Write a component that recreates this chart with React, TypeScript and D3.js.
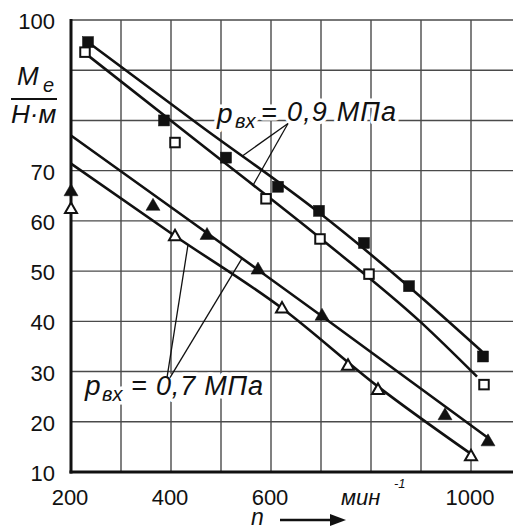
import React from "react";
import * as d3 from "d3";

// ---- data ----
const xTicks = [200, 300, 400, 500, 600, 700, 800, 900, 1000];
const xTickLabels = ["200", "", "400", "", "600", "", "", "", "1000"];
const yTicks = [10, 20, 30, 40, 50, 60, 70, 80, 90, 100];
const yTickLabels = ["10", "20", "30", "40", "50", "60", "70", "", "", "100"];

// p = 0.9 MPa, filled squares
const nFilledSq = [234, 386, 510, 614, 696, 786, 876, 1024];
const vFilledSq = [95.6, 80, 72.6, 66.8, 62, 55.6, 47, 33];
// p = 0.9 MPa, open squares
const nOpenSq = [228, 408, 590, 698, 796, 1026];
const vOpenSq = [93.6, 75.6, 64.4, 56.4, 49.4, 27.4];
// p = 0.7 MPa, filled triangles
const nFilledTri = [200, 364, 472, 574, 702, 948, 1034];
const vFilledTri = [66.2, 63.3, 57.5, 50.6, 41.4, 21.6, 16.4];
// p = 0.7 MPa, open triangles
const nOpenTri = [200, 408, 622, 754, 814, 1000];
const vOpenTri = [62.6, 57.2, 42.8, 31.4, 26.6, 13.4];

// fitted curves
const nFitFilledSq = [234, 458, 694, 884, 1022];
const vFitFilledSq = [95.6, 79, 61.8, 46.2, 34];
const nFitOpenSq = [228, 458, 698, 900, 1012];
const vFitOpenSq = [93.4, 75.4, 56.6, 39.8, 29];
const nFitFilledTri = [200, 472, 702, 1034];
const vFitFilledTri = [77, 57.6, 41, 16.8];
const nFitOpenTri = [200, 408, 622, 814, 1000];
const vFitOpenTri = [71.4, 57, 42.6, 27, 13.6];

const W = 513;
const H = 530;
const FONT = "'Liberation Sans', Arial, Helvetica, sans-serif";

const x = d3.scaleLinear().domain([200, 1084]).range([71, 513]);
const y = d3.scaleLinear().domain([10, 100]).range([472, 20]);

const zip = (ns: number[], vs: number[]) => ns.map((n, i) => [n, vs[i]] as [number, number]);

const lineGen = d3
  .line<[number, number]>()
  .x((d) => x(d[0]))
  .y((d) => y(d[1]))
  .curve(d3.curveMonotoneX);

function interp(ns: number[], vs: number[], n: number) {
  const s = d3.scaleLinear().domain(ns).range(vs);
  return s(n);
}

const fits = [
  zip(nFitFilledSq, vFitFilledSq),
  zip(nFitOpenSq, vFitOpenSq),
  zip(nFitFilledTri, vFitFilledTri),
  zip(nFitOpenTri, vFitOpenTri),
];

// leader lines (start point near label, end on fitted curve)
const leaders09 = [
  { n0: 634, v0: 79.4, n1: 542, fit: [nFitFilledSq, vFitFilledSq] },
  { n0: 634, v0: 79.4, n1: 564, fit: [nFitOpenSq, vFitOpenSq] },
];
const leaders07 = [
  { n0: 392, v0: 28.8, n1: 434, fit: [nFitOpenTri, vFitOpenTri] },
  { n0: 398, v0: 28.8, n1: 542, fit: [nFitFilledTri, vFitFilledTri] },
];

function Square({ cx, cy, filled }: { cx: number; cy: number; filled: boolean }) {
  const s = filled ? 11 : 9.5;
  return (
    <rect
      x={cx - s / 2}
      y={cy - s / 2}
      width={s}
      height={s}
      fill={filled ? "#111" : "#fff"}
      stroke="#111"
      strokeWidth={filled ? 0.5 : 2}
    />
  );
}

function Tri({ cx, cy, filled }: { cx: number; cy: number; filled: boolean }) {
  const w = filled ? 14 : 12;
  const h = filled ? 12 : 10.5;
  const pts = `${cx - w / 2},${cy + h / 2} ${cx + w / 2},${cy + h / 2} ${cx},${cy - h / 2}`;
  return (
    <polygon
      points={pts}
      fill={filled ? "#111" : "#fff"}
      stroke="#111"
      strokeWidth={filled ? 0.5 : 2}
      strokeLinejoin="miter"
    />
  );
}

const halo = {
  stroke: "#fff",
  strokeWidth: 7,
  paintOrder: "stroke" as const,
  strokeLinejoin: "round" as const,
};

export default function App() {
  return (
    <svg
      width={W}
      height={H}
      style={{ position: "absolute", left: 0, top: 0, background: "#fff" }}
      fontFamily={FONT}
    >
      <rect x={0} y={0} width={W} height={H} fill="#fff" />
      {/* grid */}
      {yTicks.map((t) => (
        <line key={"gy" + t} x1={x(200)} x2={W} y1={y(t)} y2={y(t)} stroke="#4a4a4a" strokeWidth={1.4} />
      ))}
      {xTicks.map((t) => (
        <line key={"gx" + t} x1={x(t)} x2={x(t)} y1={y(100)} y2={y(10)} stroke="#4a4a4a" strokeWidth={1.4} />
      ))}
      {/* axes */}
      <line x1={x(200)} x2={x(200)} y1={y(100) - 1} y2={y(10) + 1.5} stroke="#111" strokeWidth={3} />
      <line x1={x(200) - 1.5} x2={W} y1={y(10)} y2={y(10)} stroke="#111" strokeWidth={3} />

      {/* fitted curves */}
      {fits.map((f, i) => (
        <path key={"fit" + i} d={lineGen(f) || ""} fill="none" stroke="#111" strokeWidth={2.6} />
      ))}

      {/* labels with halo */}
      <g fontStyle="italic" fill="#111">
        <text x={217} y={123} fontSize={28} style={halo}>p</text>
        <text x={235} y={128} fontSize={20} style={halo}>вх</text>
        <text x={261} y={122} fontSize={27} style={halo}>=</text>
        <text x={287} y={121} fontSize={27} textLength={109} lengthAdjust="spacing" style={halo}>
          0,9 МПа
        </text>

        <text x={85} y={395} fontSize={28} style={halo}>p</text>
        <text x={102} y={401} fontSize={20} style={halo}>вх</text>
        <text x={131} y={395} fontSize={27} style={halo}>=</text>
        <text x={156} y={395} fontSize={27} textLength={107} lengthAdjust="spacing" style={halo}>
          0,7 МПа
        </text>
      </g>

      {/* leader lines */}
      {[...leaders09, ...leaders07].map((l, i) => (
        <line
          key={"ld" + i}
          x1={x(l.n0)}
          y1={y(l.v0)}
          x2={x(l.n1)}
          y2={y(interp(l.fit[0], l.fit[1], l.n1))}
          stroke="#111"
          strokeWidth={1.3}
        />
      ))}

      {/* markers */}
      {nFilledSq.map((n, i) => (
        <Square key={"fs" + i} cx={x(n)} cy={y(vFilledSq[i])} filled />
      ))}
      {nOpenSq.map((n, i) => (
        <Square key={"os" + i} cx={x(n)} cy={y(vOpenSq[i])} filled={false} />
      ))}
      {nFilledTri.map((n, i) => (
        <Tri key={"ft" + i} cx={x(n)} cy={y(vFilledTri[i])} filled />
      ))}
      {nOpenTri.map((n, i) => (
        <Tri key={"ot" + i} cx={x(n)} cy={y(vOpenTri[i])} filled={false} />
      ))}

      {/* y tick labels */}
      {yTicks.map((t, i) =>
        yTickLabels[i] ? (
          <text key={"yl" + t} x={55} y={y(t) + 9} fontSize={22} textAnchor="end" fill="#111">
            {yTickLabels[i]}
          </text>
        ) : null
      )}
      {/* x tick labels */}
      {xTicks.map((t, i) =>
        xTickLabels[i] ? (
          <text key={"xl" + t} x={x(t) - 1} y={505} fontSize={22} textAnchor="middle" fill="#111">
            {xTickLabels[i]}
          </text>
        ) : null
      )}

      {/* y axis title */}
      <g fontStyle="italic" fill="#111">
        <text x={17} y={85} fontSize={26}>M</text>
        <text x={43} y={92} fontSize={20}>e</text>
        <line x1={11} x2={57} y1={99} y2={99} stroke="#111" strokeWidth={2} />
        <text x={11} y={123} fontSize={26}>H·м</text>
      </g>

      {/* x axis unit and title */}
      <g fontStyle="italic" fill="#111">
        <text x={341} y={505} fontSize={22}>мин</text>
        <text x={394} y={488} fontSize={13}>-1</text>
        <text x={251} y={525} fontSize={23}>n</text>
      </g>
      <line x1={280} x2={333} y1={520} y2={520} stroke="#111" strokeWidth={2.5} />
      <polygon points="330,514 346,520 330,526" fill="#111" />
    </svg>
  );
}
